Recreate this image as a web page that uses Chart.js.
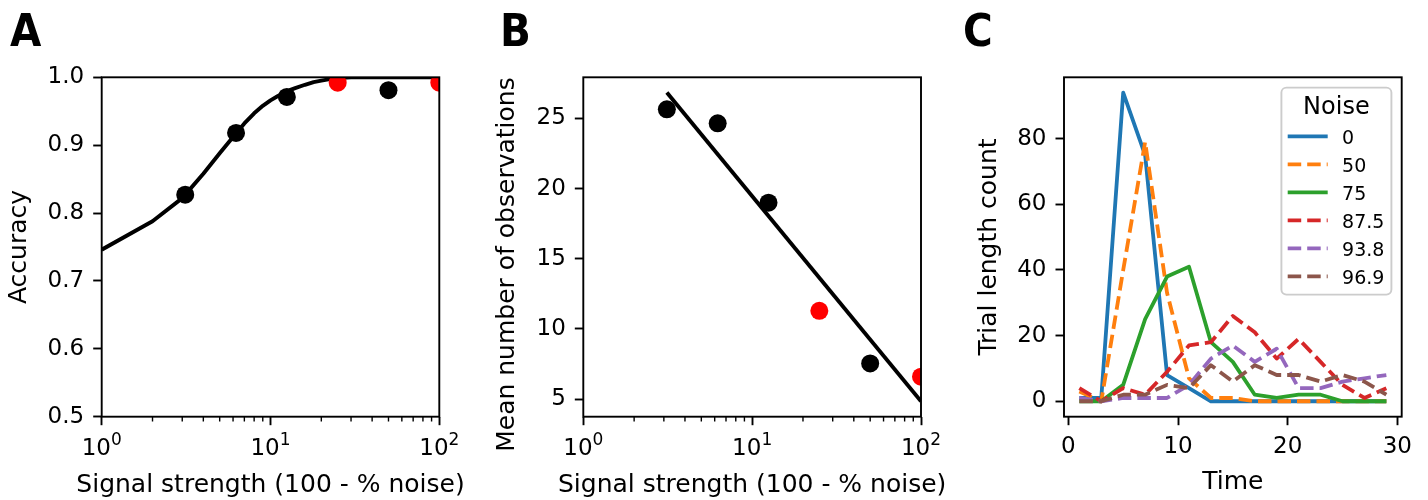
<!DOCTYPE html>
<html>
<head>
<meta charset="utf-8">
<script src="https://cdn.jsdelivr.net/npm/chart.js@4.4.1/dist/chart.umd.min.js"></script>
<style>
  body { margin: 0; background: #fff; }
  #fig { position: relative; width: 1428px; height: 500px; overflow: hidden; background: #fff; }
  .panel { position: absolute; top: 0; }
  .letter { position: absolute; top: 8px; font-family: 'Liberation Sans Narrow', 'DejaVu Sans Condensed', sans-serif; font-weight: bold; font-size: 45px; line-height: 45px; color: #000; }
</style>
</head>
<body>
<div id="fig">
  <canvas id="chartA" class="panel" width="470" height="500" style="left:0px"></canvas>
  <canvas id="chartB" class="panel" width="480" height="500" style="left:470px"></canvas>
  <canvas id="chartC" class="panel" width="478" height="500" style="left:950px"></canvas>
  <div class="letter" style="left:10px">A</div>
  <div class="letter" style="left:500px">B</div>
  <div class="letter" style="left:963px">C</div>
</div>
<script>
// A + B: signal strength is 100 - % noise
const signal = [3.125, 6.25, 12.5, 25, 50, 100];
const accuracy = [0.827, 0.918, 0.971, 0.992, 0.981, 0.992];
const meanObs = [25.65, 24.65, 18.99, 11.29, 7.54, 6.59];
const flagged = [false, false, false, true, false, true];

// fitted curve (A)
const fitX = [1, 2, 3, 4, 5, 6, 7, 8, 9, 10, 11, 12, 13, 14, 16, 18, 20, 22, 25, 30, 40, 60, 100];
const fitAcc = [0.746, 0.788, 0.822, 0.858, 0.888, 0.912, 0.932, 0.947, 0.958, 0.966, 0.972, 0.977,
                0.981, 0.984, 0.989, 0.993, 0.995, 0.997, 0.999, 1.0, 1.0, 1.0, 1.0];

// regression line (B)
const lineX = [3.125, 100];
const lineObs = [26.85, 4.84];

const logTicks = [1, 10, 100];
const logTickBase = '10';
const logTickExps = ['0', '1', '2'];
const logMinorTicks = [2, 3, 4, 5, 6, 7, 8, 9, 20, 30, 40, 50, 60, 70, 80, 90];
const accTicks = [0.5, 0.6, 0.7, 0.8, 0.9, 1.0];
const obsTicks = [5, 10, 15, 20, 25];

// C: trial length histograms
const time = [1, 3, 5, 7, 9, 11, 13, 15, 17, 19, 21, 23, 25, 27, 29];
const noiseLevels = ['0', '50', '75', '87.5', '93.8', '96.9'];
const count0   = [1, 1, 94, 75, 8, 4, 0, 0, 0, 0, 0, 0, 0, 0, 0];
const count50  = [3, 0, 40, 79, 33, 7, 1, 1, 0, 0, 0, 0, 0, 0, 0];
const count75  = [0, 0, 5, 25, 38, 41, 18, 12, 2, 1, 2, 2, 0, 0, 0];
const count875 = [4, 0, 4, 2, 9, 17, 18, 26, 21, 13, 19, 12, 5, 1, 4];
const count938 = [1, 0, 1, 1, 1, 5, 13, 17, 12, 16, 4, 4, 6, 7, 8];
const count969 = [0, 0, 2, 2, 5, 4, 11, 6, 11, 8, 8, 6, 8, 6, 2];
const timeTicks = [0, 10, 20, 30];
const countTicks = [0, 20, 40, 60, 80];

Chart.defaults.font.family = "'DejaVu Sans'";
Chart.defaults.color = '#000';

const TICK = 8.5;
const LW = 1.9;

function pts(xs, ys) {
  return xs.map((x, i) => ({ x: x, y: ys[i] }));
}

function bottomAxis(type, min, max, values, label, height) {
  return {
    type: type, min: min, max: max, position: 'bottom', bounds: 'data',
    grid: { display: true, drawOnChartArea: false, drawTicks: true, tickLength: TICK, tickWidth: LW, tickColor: '#000' },
    border: { display: false },
    ticks: { font: { size: 23 }, padding: 8, autoSkip: false, maxRotation: 0, minRotation: 0,
             callback: (v, i) => label(v, i) },
    afterBuildTicks: s => { s.ticks = values.map(v => ({ value: v, major: true })); },
    afterFit: s => { s.height = height; }
  };
}

function leftAxis(min, max, values, label, width, title, titlePad, align) {
  return {
    type: 'linear', min: min, max: max, position: 'left', bounds: 'data',
    grid: { display: true, drawOnChartArea: false, drawTicks: true, tickLength: TICK, tickWidth: LW, tickColor: '#000' },
    border: { display: false },
    ticks: { font: { size: 23 }, padding: 9, autoSkip: false, callback: (v, i) => label(v, i) },
    title: { display: true, text: title, font: { size: 25 }, padding: { top: titlePad, bottom: 0 }, align: align },
    afterBuildTicks: s => { s.ticks = values.map(v => ({ value: v })); },
    afterFit: s => { s.height; s.width = width; }
  };
}

// box round the axes, minor log ticks, power-of-ten labels, x label, legend
function framePlugin(cfg) {
  return {
    id: 'frame',
    afterDatasetsDraw(chart) {
      const ctx = chart.ctx, a = chart.chartArea;
      ctx.save();
      ctx.strokeStyle = '#000';
      ctx.lineWidth = LW;
      ctx.strokeRect(a.left, a.top, a.right - a.left, a.bottom - a.top);
      ctx.fillStyle = '#000';
      ctx.textBaseline = 'alphabetic';
      if (cfg.log) {
        const xs = chart.scales.x;
        ctx.lineWidth = 1.4;
        ctx.beginPath();
        logMinorTicks.forEach(v => {
          const px = xs.getPixelForValue(v);
          ctx.moveTo(px, a.bottom);
          ctx.lineTo(px, a.bottom + 4.8);
        });
        ctx.stroke();
        ctx.textAlign = 'left';
        logTicks.forEach((v, i) => {
          const px = xs.getPixelForValue(v);
          ctx.font = "23px 'DejaVu Sans'";
          const wb = ctx.measureText(logTickBase).width;
          ctx.font = "17px 'DejaVu Sans'";
          const we = ctx.measureText(logTickExps[i]).width;
          const x0 = px - (wb + we) / 2;
          ctx.font = "23px 'DejaVu Sans'";
          ctx.fillText(logTickBase, x0, 455);
          ctx.font = "17px 'DejaVu Sans'";
          ctx.fillText(logTickExps[i], x0 + wb, 445);
        });
      }
      ctx.font = "25px 'DejaVu Sans'";
      ctx.textAlign = 'center';
      ctx.fillText(cfg.xTitle, (a.left + a.right) / 2, cfg.baseline);
      if (cfg.legend) cfg.legend(chart);
      ctx.restore();
    }
  };
}

function drawLegend(chart) {
  const ctx = chart.ctx, a = chart.chartArea;
  const w = 110, h = 207;
  const x0 = a.right - 10.3 - w, y0 = a.top + 10.3;
  ctx.save();
  ctx.beginPath();
  ctx.roundRect(x0, y0, w, h, 5);
  ctx.fillStyle = 'rgba(255,255,255,0.8)';
  ctx.fill();
  ctx.strokeStyle = '#cccccc';
  ctx.lineWidth = 1.9;
  ctx.stroke();
  ctx.fillStyle = '#000';
  ctx.font = "24px 'DejaVu Sans'";
  ctx.textAlign = 'center';
  ctx.fillText('Noise', x0 + w / 2, y0 + 26.5);
  ctx.font = "19px 'DejaVu Sans'";
  ctx.textAlign = 'left';
  chart.data.datasets.forEach((ds, i) => {
    const y = y0 + 48.7 + 28 * i;
    ctx.beginPath();
    ctx.setLineDash(ds.borderDash || []);
    ctx.strokeStyle = ds.borderColor;
    ctx.lineWidth = ds.borderWidth;
    ctx.moveTo(x0 + 6.3, y);
    ctx.lineTo(x0 + 46.3, y);
    ctx.stroke();
    ctx.setLineDash([]);
    ctx.fillText(ds.label, x0 + 60.7, y + 7.5);
  });
  ctx.restore();
}

const pointColors = flagged.map(f => f ? '#ff0000' : '#000000');
const common = { responsive: false, animation: false, devicePixelRatio: 1, events: [] };

// panel A
new Chart(document.getElementById('chartA'), {
  type: 'scatter',
  data: {
    datasets: [
      { data: pts(signal, accuracy), pointRadius: 9, pointBorderWidth: 0,
        pointBackgroundColor: pointColors, clip: 0, order: 0 },
      { data: pts(fitX, fitAcc), showLine: true, pointRadius: 0, borderColor: '#000',
        borderWidth: 3.9, borderJoinStyle: 'round', clip: 0, order: 1 }
    ]
  },
  options: Object.assign({}, common, {
    layout: { padding: { left: 0, top: 77.3, right: 30.7, bottom: 0 } },
    plugins: { legend: { display: false }, tooltip: { enabled: false } },
    scales: {
      x: bottomAxis('logarithmic', 1, 100, logTicks, () => '', 83.3),
      y: leftAxis(0.5, 1.0, accTicks, v => v.toFixed(1), 101.7, 'Accuracy', 4.5, 'center')
    }
  }),
  plugins: [framePlugin({ xTitle: 'Signal strength (100 - % noise)', baseline: 492, log: true })]
});

// panel B
new Chart(document.getElementById('chartB'), {
  type: 'scatter',
  data: {
    datasets: [
      { data: pts(signal, meanObs), pointRadius: 9, pointBorderWidth: 0,
        pointBackgroundColor: pointColors, clip: 0, order: 0 },
      { data: pts(lineX, lineObs), showLine: true, pointRadius: 0, borderColor: '#000',
        borderWidth: 3.9, clip: 0, order: 1 }
    ]
  },
  options: Object.assign({}, common, {
    layout: { padding: { left: 0, top: 77.3, right: 29, bottom: 0 } },
    plugins: { legend: { display: false }, tooltip: { enabled: false } },
    scales: {
      x: bottomAxis('logarithmic', 1, 100, logTicks, () => '', 83.3),
      y: leftAxis(3.74, 27.93, obsTicks, v => String(v), 113.3, 'Mean number of observations', 22.9, 'end')
    }
  }),
  plugins: [framePlugin({ xTitle: 'Signal strength (100 - % noise)', baseline: 492, log: true })]
});

// panel C
const seriesC = [count0, count50, count75, count875, count938, count969];
const colorsC = ['#1f77b4', '#ff7f0e', '#2ca02c', '#d62728', '#9467bd', '#8c564b'];
const dashedC = [false, true, false, true, true, true];

new Chart(document.getElementById('chartC'), {
  type: 'scatter',
  data: {
    datasets: seriesC.map((s, i) => ({
      label: noiseLevels[i],
      data: pts(time, s),
      showLine: true,
      pointRadius: 0,
      borderColor: colorsC[i],
      borderWidth: 3.8,
      borderDash: dashedC[i] ? [13.5, 6] : [],
      borderJoinStyle: 'round',
      clip: 0,
      order: seriesC.length - i
    }))
  },
  options: Object.assign({}, common, {
    layout: { padding: { left: 0, top: 77.3, right: 26.3, bottom: 0 } },
    plugins: { legend: { display: false }, tooltip: { enabled: false } },
    scales: {
      x: bottomAxis('linear', -0.4, 30.4, timeTicks, v => String(v), 83.3),
      y: leftAxis(-4.7, 98.7, countTicks, v => String(v), 114, 'Trial length count', 24.6, 'center')
    }
  }),
  plugins: [framePlugin({ xTitle: 'Time', baseline: 488.5, legend: drawLegend })]
});
</script>
</body>
</html>
